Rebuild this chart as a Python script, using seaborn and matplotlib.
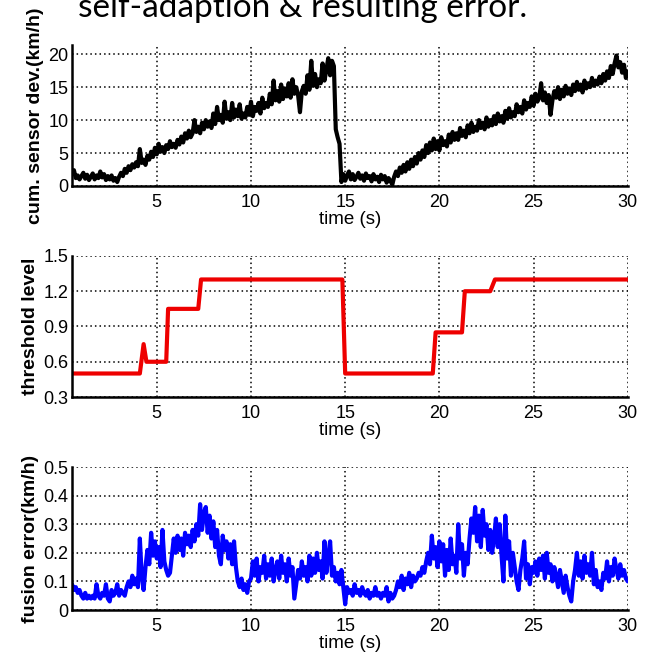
import numpy as np
import pandas as pd
import seaborn as sns
import matplotlib
matplotlib.use("Agg")
import matplotlib.pyplot as plt

# time base 0.5 .. 30.0 s, 0.1 s step
time_s = np.round(np.arange(5, 301) / 10, 1)

cum_dev = [
    1.8, 2.4, 1.2, 1.6, 1.0,
    1.5, 2.0, 1.1, 1.7, 0.9, 1.4, 1.9, 1.0, 1.6, 1.2,
    2.2, 1.3, 1.8, 0.9, 1.5, 1.0, 1.6, 0.8, 1.2, 0.6,
    1.4, 2.0, 1.5, 2.6, 2.0, 3.0, 2.4, 3.3, 2.8, 3.6,
    3.0, 5.6, 3.5, 4.0, 3.2, 4.6, 4.0, 5.2, 4.4, 5.8,
    4.8, 6.4, 5.2, 5.9, 5.0, 6.2, 5.6, 6.8, 5.9, 6.4,
    5.8, 7.0, 6.3, 7.5, 6.6, 8.0, 7.2, 8.4, 7.4, 8.0,
    10.0, 8.2, 9.0, 8.0, 9.6, 8.6, 10.0, 9.0, 9.8, 8.8,
    11.0, 9.4, 12.0, 10.0, 10.8, 9.6, 12.8, 10.2, 11.2, 10.0,
    12.6, 10.4, 11.6, 10.6, 12.4, 10.2, 11.0, 10.4, 12.0, 10.8,
    12.8, 10.6, 12.0, 11.4, 12.6, 11.0, 13.4, 11.8, 12.6, 12.0,
    14.0, 12.4, 16.0, 13.0, 14.4, 12.8, 15.4, 13.2, 14.8, 13.6,
    15.6, 13.4, 16.2, 14.0, 15.0, 13.8, 11.2, 14.4, 15.2, 14.0,
    16.8, 14.6, 19.0, 15.2, 17.0, 15.0, 16.2, 15.6, 18.6, 16.0,
    17.6, 19.4, 16.8, 19.0, 18.2, 8.6, 7.4, 6.4, 0.6, 1.8,
    0.8, 1.6, 2.2, 1.0, 1.8, 0.9, 1.4, 2.0, 1.1, 1.6,
    0.8, 1.9, 1.2, 1.5, 0.7, 1.8, 1.0, 1.4, 0.6, 1.7,
    1.0, 1.5, 0.5, 1.2, 0.8, 0.2, 1.4, 2.2, 1.5, 2.8,
    2.0, 3.2, 2.2, 3.6, 2.6, 4.0, 3.0, 4.4, 3.4, 5.0,
    4.0, 5.4, 4.4, 6.2, 5.0, 6.6, 5.4, 7.2, 5.6, 6.8,
    5.4, 7.4, 6.2, 6.8, 6.0, 7.8, 6.6, 8.2, 7.0, 8.0,
    7.0, 8.8, 7.6, 8.4, 7.4, 9.2, 8.0, 9.6, 8.2, 9.0,
    8.4, 10.0, 8.8, 9.6, 8.6, 10.4, 9.0, 10.0, 9.2, 10.6,
    9.4, 11.0, 9.8, 10.6, 9.6, 11.4, 10.2, 11.8, 10.4, 11.2,
    10.6, 12.4, 11.2, 12.0, 11.0, 13.0, 11.6, 12.6, 12.0, 13.6,
    12.2, 14.0, 12.8, 13.4, 15.6, 13.0, 14.2, 12.6, 13.8, 10.8,
    13.0, 14.4, 13.4, 15.0, 13.2, 14.6, 13.6, 15.2, 14.0, 14.8,
    13.8, 15.4, 14.4, 15.8, 14.6, 15.4, 14.2, 16.0, 14.8, 15.6,
    15.0, 16.4, 15.2, 16.0, 15.4, 16.6, 15.6, 17.0, 16.0, 17.4,
    16.4, 18.2, 17.0, 18.6, 19.8, 18.0, 18.8, 17.2, 18.4, 16.4,
    17.4,
]

fusion_err = [
    0.09, 0.07, 0.08, 0.06, 0.07,
    0.05, 0.04, 0.06, 0.04, 0.05, 0.04, 0.05, 0.04, 0.09, 0.05,
    0.04, 0.06, 0.05, 0.09, 0.04, 0.03, 0.07, 0.05, 0.06, 0.09,
    0.05, 0.07, 0.06, 0.05, 0.08, 0.10, 0.08, 0.12, 0.09, 0.11,
    0.08, 0.25, 0.12, 0.07, 0.15, 0.21, 0.16, 0.27, 0.19, 0.24,
    0.18, 0.22, 0.15, 0.28, 0.17, 0.14, 0.12, 0.13, 0.19, 0.25,
    0.20, 0.26, 0.21, 0.25, 0.19, 0.27, 0.23, 0.26, 0.22, 0.28,
    0.24, 0.30, 0.26, 0.37, 0.28, 0.34, 0.36, 0.27, 0.33, 0.25,
    0.31, 0.22, 0.28, 0.19, 0.16, 0.26, 0.21, 0.24, 0.18, 0.23,
    0.16, 0.24, 0.15, 0.10, 0.08, 0.11, 0.07, 0.09, 0.06, 0.10,
    0.11, 0.17, 0.12, 0.18, 0.10, 0.15, 0.13, 0.19, 0.11, 0.16,
    0.12, 0.18, 0.10, 0.14, 0.17, 0.11, 0.19, 0.13, 0.16, 0.10,
    0.18, 0.12, 0.15, 0.04, 0.09, 0.14, 0.11, 0.17, 0.12, 0.15,
    0.10, 0.19, 0.12, 0.18, 0.13, 0.20, 0.14, 0.17, 0.11, 0.24,
    0.13, 0.19, 0.24, 0.12, 0.15, 0.10, 0.13, 0.09, 0.14, 0.08,
    0.02, 0.08, 0.06, 0.07, 0.05, 0.09, 0.06, 0.07, 0.05, 0.08,
    0.06, 0.05, 0.07, 0.04, 0.06, 0.05, 0.08, 0.05, 0.06, 0.04,
    0.06, 0.05, 0.08, 0.03, 0.06, 0.04, 0.05, 0.07, 0.10, 0.08,
    0.12, 0.07, 0.11, 0.09, 0.13, 0.08, 0.12, 0.10, 0.11, 0.13,
    0.12, 0.15, 0.13, 0.17, 0.20, 0.16, 0.26, 0.18, 0.22, 0.15,
    0.24, 0.17, 0.23, 0.12, 0.21, 0.14, 0.25, 0.16, 0.19, 0.13,
    0.30, 0.18, 0.23, 0.12, 0.20, 0.16, 0.25, 0.32, 0.27, 0.36,
    0.24, 0.33, 0.22, 0.35, 0.26, 0.30, 0.21, 0.28, 0.20, 0.25,
    0.32, 0.22, 0.30, 0.19, 0.10, 0.33, 0.18, 0.24, 0.12, 0.20,
    0.15, 0.10, 0.07, 0.14, 0.18, 0.24, 0.11, 0.16, 0.09, 0.15,
    0.13, 0.17, 0.12, 0.18, 0.14, 0.19, 0.11, 0.20, 0.13, 0.16,
    0.10, 0.15, 0.12, 0.08, 0.14, 0.10, 0.06, 0.12, 0.08, 0.05,
    0.03, 0.10, 0.14, 0.20, 0.12, 0.17, 0.11, 0.19, 0.13, 0.16,
    0.12, 0.20, 0.09, 0.14, 0.08, 0.10, 0.07, 0.13, 0.11, 0.17,
    0.10, 0.15, 0.12, 0.18, 0.14, 0.11, 0.16, 0.12, 0.14, 0.11,
    0.10,
]

# threshold level: breakpoints of the step curve
thr_t = [0.5, 4.1, 4.3, 4.45, 5.5, 5.6, 7.2, 7.35, 14.85, 15.0,
         19.65, 19.8, 21.2, 21.35, 22.7, 22.95, 30.0]
thr_v = [0.5, 0.5, 0.75, 0.6, 0.6, 1.05, 1.05, 1.3, 1.3, 0.5,
         0.5, 0.85, 0.85, 1.2, 1.2, 1.3, 1.3]

x_ticks = [5, 10, 15, 20, 25, 30]

sns.set_style("white")
plt.rcParams["font.family"] = ["Liberation Sans", "DejaVu Sans"]
plt.rcParams["text.color"] = "black"
plt.rcParams["axes.labelcolor"] = "black"

fig = plt.figure(figsize=(6.5, 6.56), dpi=100)

panels = [
    # rect, x, y, color, ylim, yticks, tick labels, ylabel
    ([0.1108, 0.7165, 0.855, 0.2149], time_s, cum_dev, "black", (0, 21.4),
     [0, 5, 10, 15, 20], ["0", "5", "10", "15", "20"], "cum. sensor dev.(km/h)"),
    ([0.1108, 0.3948, 0.855, 0.2150], thr_t, thr_v, "#ee0000", (0.3, 1.5),
     [0.3, 0.6, 0.9, 1.2, 1.5], ["0.3", "0.6", "0.9", "1.2", "1.5"], "threshold level"),
    ([0.1108, 0.0701, 0.855, 0.2180], time_s, fusion_err, "#0000ff", (0, 0.5),
     [0, 0.1, 0.2, 0.3, 0.4, 0.5], ["0", "0.1", "0.2", "0.3", "0.4", "0.5"],
     "fusion error(km/h)"),
]

for rect, xs, ys, col, ylim, yticks, ylabels, ylab in panels:
    ax = fig.add_axes(rect)
    df = pd.DataFrame({"t": xs, "v": ys})
    sns.lineplot(data=df, x="t", y="v", ax=ax, color=col, linewidth=3.0,
                 estimator=None, sort=False)
    ax.set_xlim(0.5, 30)
    ax.set_ylim(*ylim)
    ax.set_xticks(x_ticks)
    ax.set_yticks(yticks)
    ax.set_yticklabels(ylabels)
    ax.grid(True, color="black", linestyle=(0, (1, 2)), linewidth=1.1)
    ax.set_axisbelow(True)
    for s in ["top", "right"]:
        ax.spines[s].set_visible(False)
    for s in ["left", "bottom"]:
        ax.spines[s].set_color("black")
        ax.spines[s].set_linewidth(1.8)
    ax.tick_params(direction="in", length=4, width=1.5, labelsize=13,
                   colors="black")
    ax.tick_params(axis="x", pad=6)
    ax.tick_params(axis="y", pad=2.5)
    ax.set_xlabel("time (s)", fontsize=13.5, labelpad=0, color="black")
    ax.set_ylabel(ylab, fontsize=14, fontweight="bold", labelpad=3, color="black")

fig.text(0.465, 1 - 17 / 656, "self-adaption & resulting error.",
         ha="center", va="baseline", fontsize=24, family=["Lato", "DejaVu Sans"],
         color="black")

fig.savefig("out.png", dpi=100)
